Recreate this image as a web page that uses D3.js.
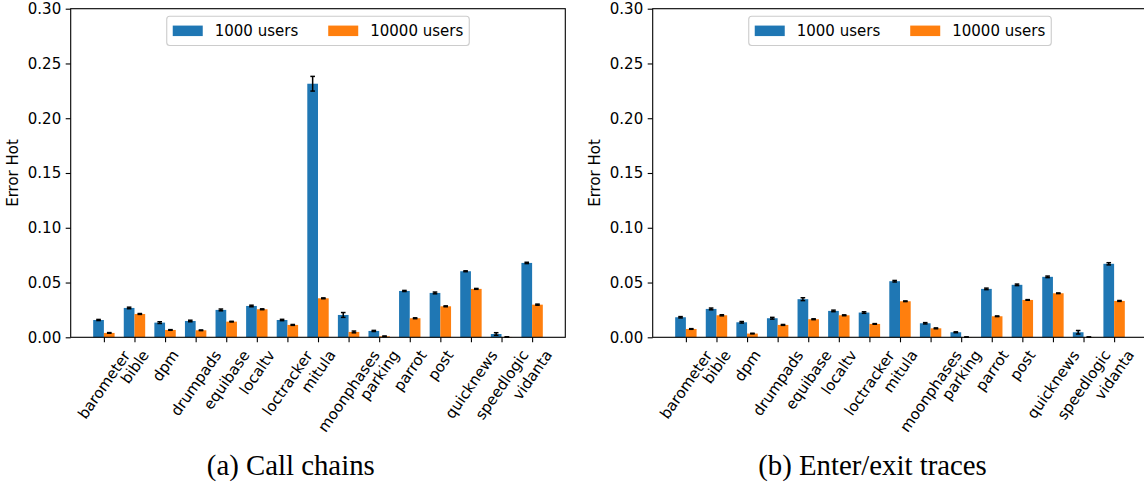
<!DOCTYPE html>
<html>
<head>
<meta charset="utf-8">
<script src="https://cdn.jsdelivr.net/npm/d3@7"></script>
<style>
  html, body { margin: 0; padding: 0; background: #ffffff; }
  svg { display: block; }
</style>
</head>
<body>
<script>
// Applications on the x axis
const apps = ["barometer", "bible", "dpm", "drumpads", "equibase", "localtv", "loctracker",
  "mitula", "moonphases", "parking", "parrot", "post", "quicknews", "speedlogic", "vidanta"];

const seriesNames = ["1000 users", "10000 users"];
const seriesColors = ["#1f77b4", "#ff7f0e"];

// (a) Call chains: mean error and its spread
const callUsers1k = [0.0158, 0.0268, 0.0134, 0.0149, 0.0250, 0.0286, 0.0158, 0.2315, 0.0204, 0.0058,
  0.0423, 0.0405, 0.0603, 0.0030, 0.0679];
const callUsers10k = [0.0040, 0.0213, 0.0067, 0.0064, 0.0143, 0.0256, 0.0113, 0.0356, 0.0049, 0.0009,
  0.0174, 0.0283, 0.0442, 0.0003, 0.0298];
const callErr1k = [0.0005, 0.0007, 0.0008, 0.0007, 0.0008, 0.0007, 0.0006, 0.0067, 0.0022, 0.0005,
  0.0005, 0.0008, 0.0004, 0.0012, 0.0006];
const callErr10k = [0.0003, 0.0004, 0.0003, 0.0003, 0.0003, 0.0004, 0.0004, 0.0004, 0.0008, 0.0003,
  0.0004, 0.0004, 0.0004, 0.0001, 0.0005];

// (b) Enter/exit traces: mean error and its spread
const traceUsers1k = [0.0183, 0.0259, 0.0137, 0.0174, 0.0348, 0.0241, 0.0226, 0.0512, 0.0128, 0.0046,
  0.0442, 0.0479, 0.0552, 0.0046, 0.0671];
const traceUsers10k = [0.0076, 0.0201, 0.0034, 0.0113, 0.0165, 0.0201, 0.0122, 0.0329, 0.0082, 0.0002,
  0.0192, 0.0341, 0.0402, 0.0002, 0.0332];
const traceErr1k = [0.0006, 0.0008, 0.0007, 0.0008, 0.0013, 0.0007, 0.0007, 0.0007, 0.0006, 0.0004,
  0.0007, 0.0007, 0.0007, 0.0016, 0.0010];
const traceErr10k = [0.0003, 0.0005, 0.0003, 0.0004, 0.0004, 0.0004, 0.0003, 0.0003, 0.0004, 0.0001,
  0.0003, 0.0003, 0.0003, 0.0001, 0.0004];

const yTicks = [0.00, 0.05, 0.10, 0.15, 0.20, 0.25, 0.30];
const yLabel = "Error Hot";
const captions = ["(a) Call chains", "(b) Enter/exit traces"];

// ---- layout ----
const W = 1144, H = 484;
const SANS = "'DejaVu Sans', sans-serif";
const SERIF = "'Liberation Serif', 'Times New Roman', serif";
const FS = 15;            // tick / label / legend font size
const plotW = 494.6;
const plotTop = 8.7, plotBottom = 337.3;
const barW = 0.35;
const xDomain = [-1.085, 15.085];
const tickLen = 5, tickPad = 4.5;
const labelAngle = 55;

const svg = d3.select("body").append("svg")
  .attr("width", W).attr("height", H)
  .attr("font-family", SANS);

const y = d3.scaleLinear().domain([0, 0.30]).range([plotBottom, plotTop]);

function drawPanel(left, captionX, caption, values1k, values10k, err1k, err10k) {
  const x = d3.scaleLinear().domain(xDomain).range([left, left + plotW]);
  const g = svg.append("g");

  // bars
  const series = [
    { vals: values1k, errs: err1k, color: seriesColors[0], x0: i => x(i - barW), x1: i => x(i) },
    { vals: values10k, errs: err10k, color: seriesColors[1], x0: i => x(i), x1: i => x(i + barW) }
  ];
  series.forEach(s => {
    g.append("g").selectAll("rect").data(s.vals).join("rect")
      .attr("x", (d, i) => s.x0(i))
      .attr("width", (d, i) => s.x1(i) - s.x0(i))
      .attr("y", d => y(d))
      .attr("height", d => y(0) - y(d))
      .attr("fill", s.color);
  });

  // error bars with caps
  const capHalf = 2.3;
  series.forEach(s => {
    const eg = g.append("g").attr("stroke", "#000").attr("stroke-width", 1.5);
    s.vals.forEach((v, i) => {
      const cx = (s.x0(i) + s.x1(i)) / 2;
      const lo = Math.max(0, v - s.errs[i]), hi = v + s.errs[i];
      eg.append("line").attr("x1", cx).attr("x2", cx).attr("y1", y(lo)).attr("y2", y(hi));
      [lo, hi].forEach(e => {
        eg.append("line").attr("x1", cx - capHalf).attr("x2", cx + capHalf)
          .attr("y1", y(e)).attr("y2", y(e));
      });
    });
  });

  // y axis
  const yAxis = g.append("g").attr("transform", `translate(${left},0)`)
    .call(d3.axisLeft(y).tickValues(yTicks).tickFormat(d3.format(".2f"))
      .tickSize(tickLen).tickPadding(tickPad));
  yAxis.select(".domain").remove();
  yAxis.selectAll(".tick line").attr("stroke", "#000").attr("stroke-width", 1.1);
  yAxis.selectAll(".tick text").attr("font-family", SANS).attr("font-size", FS).attr("fill", "#000");

  // x axis with rotated category labels
  const xAxis = g.append("g").attr("transform", `translate(0,${plotBottom})`)
    .call(d3.axisBottom(x).tickValues(d3.range(apps.length)).tickFormat(i => apps[i])
      .tickSize(tickLen));
  xAxis.select(".domain").remove();
  xAxis.selectAll(".tick line").attr("stroke", "#000").attr("stroke-width", 1.1);
  const th = labelAngle * Math.PI / 180;
  xAxis.selectAll(".tick text")
    .attr("font-family", SANS).attr("font-size", FS).attr("fill", "#000")
    .attr("x", 0).attr("y", 0).attr("dy", null).attr("text-anchor", "start")
    .each(function () {
      const b = this.getBBox();
      const pts = [[b.x, b.y], [b.x + b.width, b.y], [b.x, b.y + b.height], [b.x + b.width, b.y + b.height]]
        .map(([px, py]) => [px * Math.cos(th) + py * Math.sin(th), -px * Math.sin(th) + py * Math.cos(th)]);
      const minX = d3.min(pts, p => p[0]), maxX = d3.max(pts, p => p[0]);
      const minY = d3.min(pts, p => p[1]);
      const tx = -(minX + maxX) / 2;
      const ty = tickLen + tickPad - minY;
      d3.select(this).attr("transform", `translate(${tx},${ty}) rotate(${-labelAngle})`);
    });

  // frame
  g.append("rect")
    .attr("x", left).attr("y", plotTop)
    .attr("width", plotW).attr("height", plotBottom - plotTop)
    .attr("fill", "none").attr("stroke", "#000").attr("stroke-width", 1.1);

  // y label
  g.append("text")
    .attr("transform", `translate(${left - 57.5},${(plotTop + plotBottom) / 2}) rotate(-90)`)
    .attr("text-anchor", "middle").attr("dominant-baseline", "central")
    .attr("font-size", FS).attr("fill", "#000")
    .text(yLabel);

  // legend (upper center, two columns)
  const lg = g.append("g");
  const pad = 0.4 * FS, hLen = 2.0 * FS, hH = 0.7 * FS, hPad = 0.8 * FS, colSp = 2.0 * FS;
  const texts = seriesNames.map(n => {
    const t = lg.append("text").attr("font-size", FS).attr("fill", "#000").text(n);
    return { node: t, w: t.node().getComputedTextLength() };
  });
  const boxW = 2 * pad + texts.reduce((a, t) => a + hLen + hPad + t.w, 0) + colSp;
  const boxH = 2 * pad + FS * 1.15;
  const cx = left + plotW / 2;
  const bx = cx - boxW / 2, by = plotTop + 0.5 * FS;
  lg.insert("rect", "text")
    .attr("x", bx).attr("y", by).attr("width", boxW).attr("height", boxH)
    .attr("rx", 3).attr("fill", "#fff").attr("fill-opacity", 0.8)
    .attr("stroke", "#cccccc").attr("stroke-width", 1.1);
  let ix = bx + pad;
  const midY = by + boxH / 2;
  texts.forEach((t, k) => {
    lg.insert("rect", "text")
      .attr("x", ix).attr("y", midY - hH / 2).attr("width", hLen).attr("height", hH)
      .attr("fill", seriesColors[k]);
    t.node.attr("x", ix + hLen + hPad).attr("y", midY).attr("dominant-baseline", "central");
    ix += hLen + hPad + t.w + colSp;
  });

  // caption
  svg.append("text")
    .attr("x", captionX).attr("y", 475)
    .attr("text-anchor", "middle")
    .attr("font-family", SERIF).attr("font-size", 28.8).attr("fill", "#000")
    .text(caption);
}

drawPanel(70.7, 290.8, captions[0], callUsers1k, callUsers10k, callErr1k, callErr10k);
drawPanel(652.7, 872.5, captions[1], traceUsers1k, traceUsers10k, traceErr1k, traceErr10k);
</script>
</body>
</html>
